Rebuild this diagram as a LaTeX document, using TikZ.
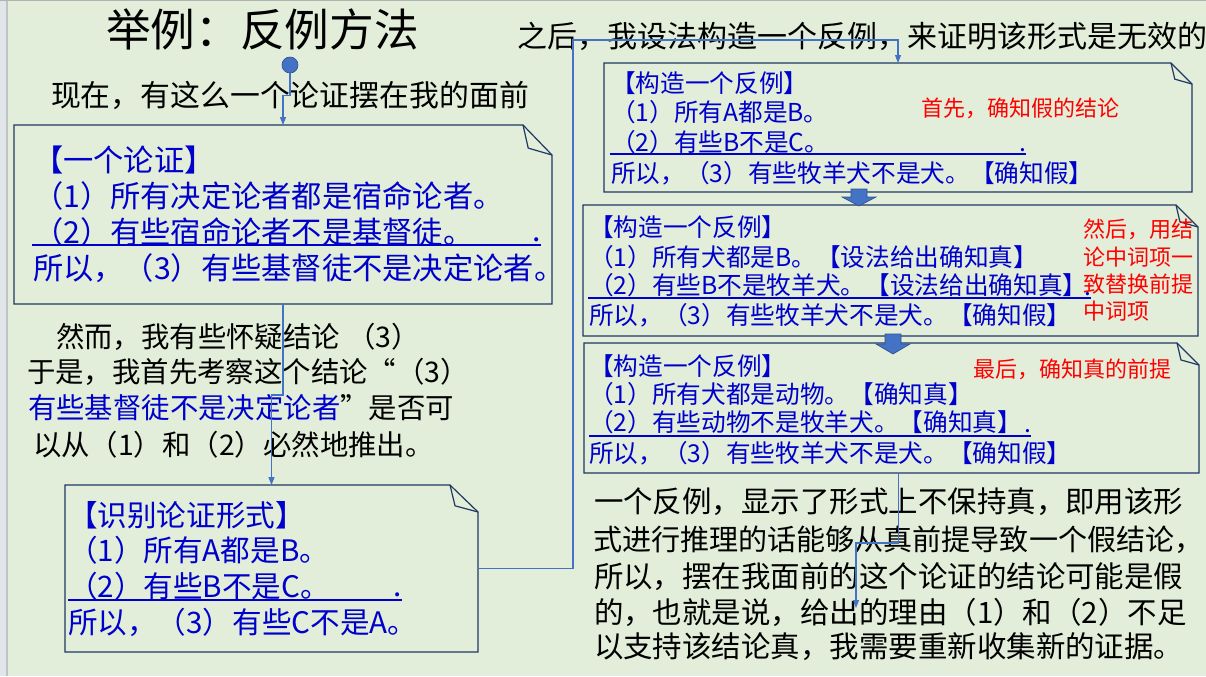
\documentclass[tikz,border=0pt]{standalone}
\usepackage{fontspec}
\setmainfont{Noto Sans CJK SC}
\usetikzlibrary{arrows.meta,calc,fit}
\definecolor{bg}{HTML}{E2EED9}
\definecolor{stripe}{HTML}{E1E6EB}
\definecolor{stripeline}{HTML}{BFC4C9}
\definecolor{frameblue}{HTML}{1F3864}
\definecolor{tblue}{HTML}{0000CC}
\definecolor{linkblue}{HTML}{4472C4}
\definecolor{linkdark}{HTML}{2F528F}
\definecolor{tred}{HTML}{FF0000}
\newcommand\myfs[1]{\fontsize{#1}{#1}\selectfont}
% frame with a folded top-right corner around a fitted node
\newcommand\foldframe[3]{%
  \draw[frame] (#1.south west) -- (#1.north west) -- ($(#1.north east)+(-#2,0)$)
    -- ($(#1.north east)+(0,#3)$) -- (#1.south east) -- cycle;
  \draw[frame] ($(#1.north east)+(-#2,0)$) -- ($(#1.north east)+(-0.82*#2,0.77*#3)$)
    -- ($(#1.north east)+(0,#3)$);}
% downward block arrow: centre x, top y, head start y, tip y
\newcommand\blockdown[4]{%
  \filldraw[fill=linkblue,draw=linkdark,line width=0.5pt]
    (#1-8,#2) -- (#1+8,#2) -- (#1+8,#3) -- (#1+17,#3) -- (#1,#4)
    -- (#1-17,#3) -- (#1-8,#3) -- cycle;}
\begin{document}
\begin{tikzpicture}[x=0.75pt,y=-0.75pt,
  t/.style={inner sep=0pt,outer sep=0pt,anchor=west},
  bt/.style={t,text=tblue},
  rt/.style={t,text=tred,font=\myfs{16.5pt}},
  title/.style={t,font=\myfs{33.5pt}},
  topline/.style={font=\myfs{22.5pt}},
  nowline/.style={font=\myfs{22.4pt}},
  argf/.style={font=\myfs{22.7pt}},
  mid/.style={font=\myfs{21.3pt}},
  formf/.style={font=\myfs{22.2pt}},
  sml/.style={font=\myfs{18.5pt}},
  endf/.style={font=\myfs{22.1pt}},
  frame/.style={draw=frameblue,line width=0.9pt},
  uline/.style={draw=tblue,line width=1pt},
  conn/.style={draw=linkblue,line width=0.8pt,-{Triangle[length=6pt,width=4.5pt]}},
  boxarea/.style={inner sep=0pt,outer sep=0pt}]
\useasboundingbox (0,0) rectangle (1206,676);
\fill[bg] (0,0) rectangle (1206,676);
\fill[stripe] (0,0) rectangle (7,676);
\draw[stripeline,line width=0.8pt] (7,0) -- (7,676);
\draw[gray!60,line width=1pt] (0,0.6) -- (1206,0.6);

% box areas
\coordinate (b1a) at (14,125);   \coordinate (b1b) at (552,304);
\coordinate (b2a) at (65,485);   \coordinate (b2b) at (478,652);
\coordinate (b3a) at (604,63);   \coordinate (b3b) at (1192,192);
\coordinate (b4a) at (583,205);  \coordinate (b4b) at (1198,336);
\coordinate (b5a) at (584,343);  \coordinate (b5b) at (1199,473);
\node[boxarea,fit=(b1a)(b1b)] (b1) {};
\node[boxarea,fit=(b2a)(b2b)] (b2) {};
\node[boxarea,fit=(b3a)(b3b)] (b3) {};
\node[boxarea,fit=(b4a)(b4b)] (b4) {};
\node[boxarea,fit=(b5a)(b5b)] (b5) {};
\foldframe{b1}{29}{30}
\foldframe{b2}{28}{27}
\foldframe{b3}{21}{21}
\foldframe{b4}{22}{22}
\foldframe{b5}{22}{22}

% headings
\node[title] (ttl) at (106,29) {举例：反例方法};
\node[t,topline] (after) at (517,36) {之后，我设法构造一个反例，来证明该形式是无效的};
\node[t,nowline] (now) at (51,95) {现在，有这么一个论证摆在我的面前};

% the argument
\node[bt,argf] (a0) at (33,160) {【一个论证】};
\node[bt,argf] (a1) at (33,196) {（1）所有决定论者都是宿命论者。};
\node[bt,argf] (a2) at (33,232) {（2）有些宿命论者不是基督徒。};
\node[bt,argf,anchor=base east] (a2p) at (541,241) {.};
\draw[uline] (32,245) -- (541,245);
\node[bt,argf] (a3) at (33,268) {所以，（3）有些基督徒不是决定论者。};

% doubt
\node[t,mid] (d1) at (56,337) {然而，我有些怀疑结论\hspace{0.25em}（3）};
\node[t,mid] (d2) at (27,372) {于是，我首先考察这个结论“（3）};
\node[t,mid] (d3) at (28,408) {{\color{tblue}有些基督徒不是决定论者}”是否可};
\node[t,mid] (d4) at (33,445) {以从（1）和（2）必然地推出。};

% the form
\node[bt,formf] (f0) at (68,515) {【识别论证形式】};
\node[bt,formf] (f1) at (68,550) {（1）所有A都是B。};
\node[bt,formf] (f2) at (68,586) {（2）有些B不是C。};
\node[bt,formf,anchor=base east] (f2p) at (402,596) {.};
\draw[uline] (68,600) -- (402,600);
\node[bt,formf] (f3) at (68,622) {所以，（3）有些C不是A。};

% counterexample, step 1
\node[bt,sml] (p0) at (611,83) {【构造一个反例】};
\node[bt,sml] (p1) at (611,112) {（1）所有A都是B。};
\node[bt,sml] (p2) at (611,142) {（2）有些B不是C。};
\node[bt,sml,anchor=base east] (p2p) at (1026,151) {.};
\draw[uline] (610,154) -- (1026,154);
\node[bt,sml] (p3) at (611,173) {所以，（3）有些牧羊犬不是犬。【确知假】};
\node[rt] (r1) at (921,108) {首先，确知假的结论};

% counterexample, step 2
\node[bt,sml] (q0) at (589,227) {【构造一个反例】};
\node[bt,sml] (q1) at (589,257) {（1）所有犬都是B。【设法给出确知真】};
\node[bt,sml] (q2) at (589,285) {（2）有些B不是牧羊犬。【设法给出确知真】};
\node[bt,sml,anchor=base east] (q2p) at (1091,295) {.};
\draw[uline] (588,298) -- (1091,298);
\node[bt,sml] (q3) at (589,315) {所以，（3）有些牧羊犬不是犬。【确知假】};
\node[rt] (r2a) at (1083,229) {然后，用结};
\node[rt] (r2b) at (1083,257) {论中词项一};
\node[rt] (r2c) at (1083,284) {致替换前提};
\node[rt] (r2d) at (1083,311) {中词项};

% counterexample, step 3
\node[bt,sml] (s0) at (589,366) {【构造一个反例】};
\node[bt,sml] (s1) at (589,394) {（1）所有犬都是动物。【确知真】};
\node[bt,sml] (s2) at (589,422) {（2）有些动物不是牧羊犬。【确知真】};
\node[bt,sml,anchor=base east] (s2p) at (1031,432) {.};
\draw[uline] (589,436) -- (1031,436);
\node[bt,sml] (s3) at (589,453) {所以，（3）有些牧羊犬不是犬。【确知假】};
\node[rt] (r3) at (973,369) {最后，确知真的前提};

% conclusion
\node[t,endf] (c1) at (594,502) {一个反例，显示了形式上不保持真，即用该形};
\node[t,endf] (c2) at (593,540) {\fontsize{21.8pt}{21.8pt}\selectfont 式进行推理的话能够从真前提导致一个假结论\rlap{，}};
\node[t,endf] (c3) at (594,577) {所以，摆在我面前的这个论证的结论可能是假};
\node[t,endf] (c4) at (594,612) {的，也就是说，给出的理由（1）和（2）不足};
\node[t,endf] (c5) at (594,647) {以支持该结论真，我需要重新收集新的证据。};

% block arrows between the steps
\blockdown{859}{189}{197}{206}
\blockdown{893}{334}{344}{354}

% connectors
\node[circle,fill=linkblue,draw=linkdark,line width=0.5pt,minimum size=12pt,inner sep=0pt] (dot) at (290,65) {};
\draw[conn] (dot.south) -- ++(0,22) -| (b1.north);
\draw[conn] (b1.south) -- ++(0,91) -| (b2.north);
\coordinate (k1) at (573,40);
\draw[conn] (b2.east) -| (k1) -| (b3.north);
\coordinate (k2) at (856,608);
\draw[conn] ($(b5.south)+(7,0)$) -- ++(0,70) -| (k2);
\end{tikzpicture}
\end{document}
